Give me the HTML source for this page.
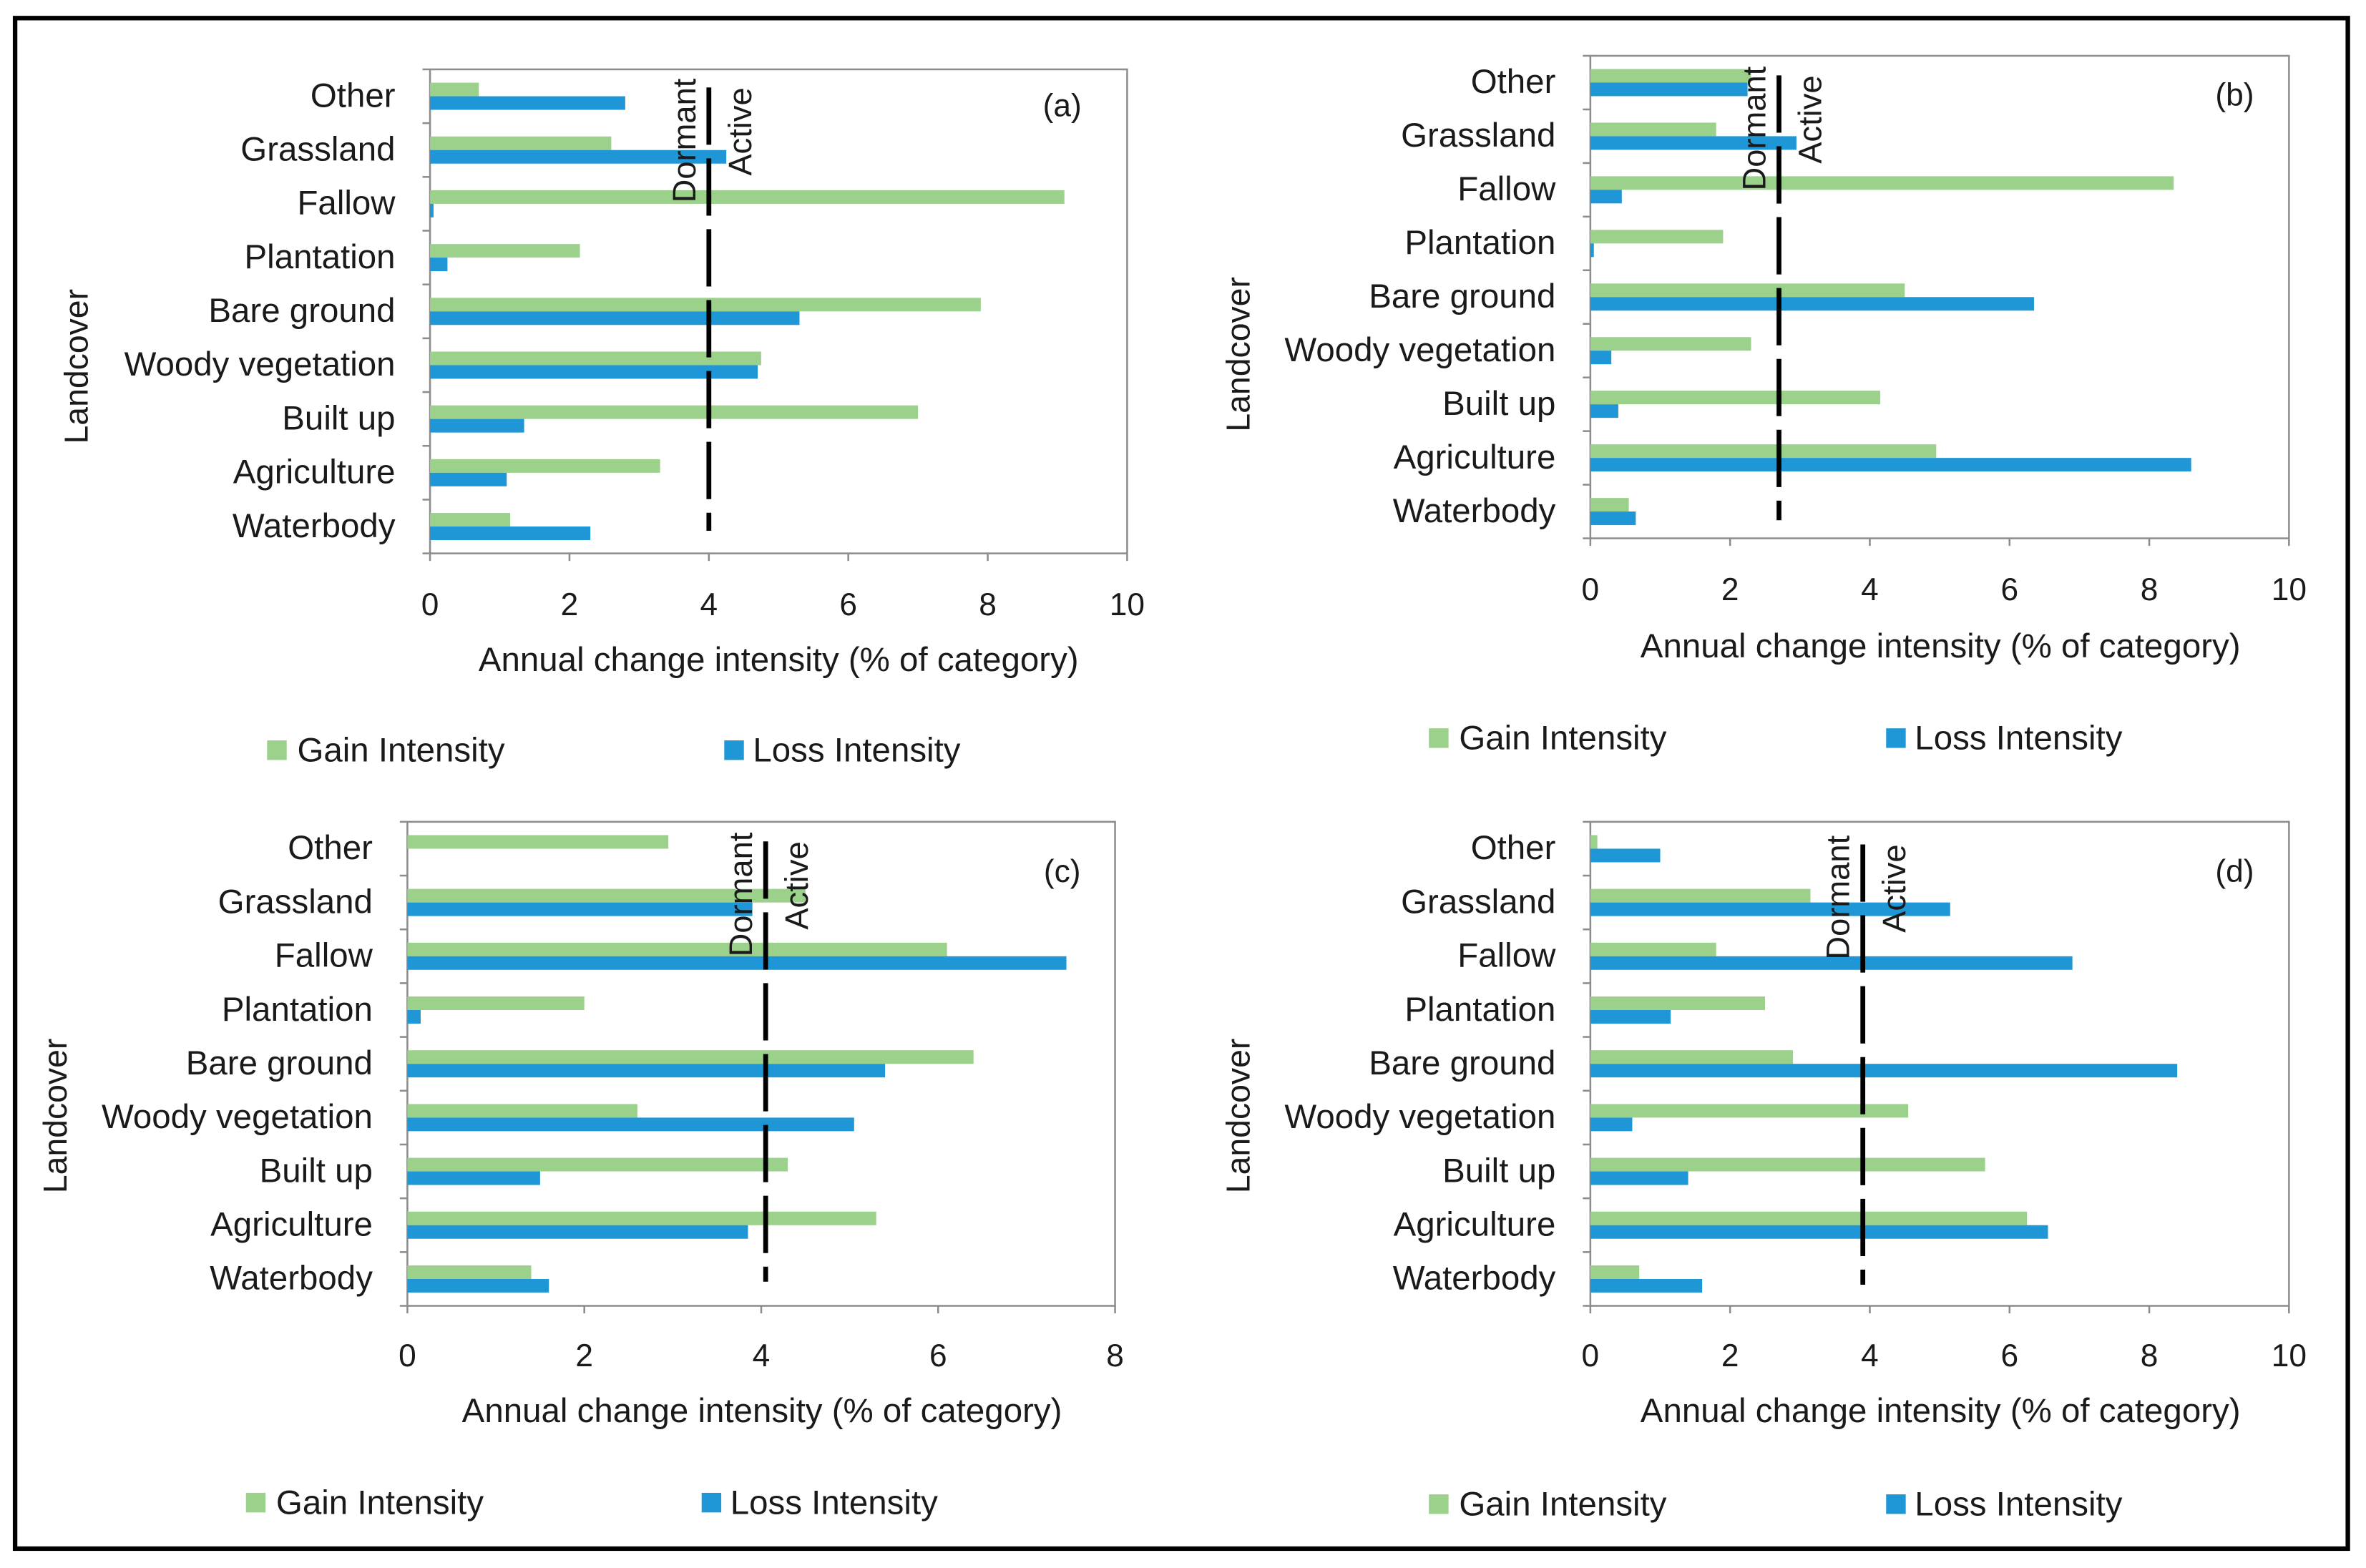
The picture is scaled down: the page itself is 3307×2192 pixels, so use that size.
<!DOCTYPE html>
<html><head><meta charset="utf-8"><style>
html,body{margin:0;padding:0;background:#fff;}
svg{display:block;}
text{font-family:"Liberation Sans",sans-serif;fill:#1a1a1a;}
</style></head><body>
<svg id="fig" width="3307" height="2192" viewBox="0 0 3307 2192" xmlns="http://www.w3.org/2000/svg">
<rect x="0" y="0" width="3307" height="2192" fill="#fff"/>
<g id="root" transform="scale(2.109,2.108)"></g>
</svg>
<script>
const categories = ["Other","Grassland","Fallow","Plantation","Bare ground","Woody vegetation","Built up","Agriculture","Waterbody"];
const gainA = [0.7,2.6,9.1,2.15,7.9,4.75,7.0,3.3,1.15];
const lossA = [2.8,4.25,0.05,0.25,5.3,4.7,1.35,1.1,2.3];
const gainB = [2.3,1.8,8.35,1.9,4.5,2.3,4.15,4.95,0.55];
const lossB = [2.25,2.95,0.45,0.05,6.35,0.3,0.4,8.6,0.65];
const gainC = [2.95,4.5,6.1,2.0,6.4,2.6,4.3,5.3,1.4];
const lossC = [0,3.9,7.45,0.15,5.4,5.05,1.5,3.85,1.6];
const gainD = [0.1,3.15,1.8,2.5,2.9,4.55,5.65,6.25,0.7];
const lossD = [1.0,5.15,6.9,1.15,8.4,0.6,1.4,6.55,1.6];
const ticksA = [0,2,4,6,8,10];
const ticksC = [0,2,4,6,8];
const thresholds = [4.0,2.7,4.05,3.9];

const NS="http://www.w3.org/2000/svg";
const root=document.getElementById('root');
function mk(tag,attrs,parent){const e=document.createElementNS(NS,tag);for(const k in attrs)e.setAttribute(k,attrs[k]);(parent||root).appendChild(e);return e;}

const frame=mk('rect',{x:10,y:12,width:1546,height:1015,fill:'none',stroke:'#000','stroke-width':3});



const panels=[
 {id:'a',gain:gainA,loss:lossA,ticks:ticksA,max:10,x0:285,x1:747,top:46,bot:367,thr:thresholds[0],dTop:58,dBot:352,tickY:400,titleY:437,titleX:516,legY:497,gSq:177,bSq:480,lcX:50,lcY:243,labX:704,labY:70},
 {id:'b',gain:gainB,loss:lossB,ticks:ticksA,max:10,x0:1054,x1:1517,top:37,bot:357,thr:thresholds[1],dTop:50,dBot:345,tickY:390,titleY:428,titleX:1286,legY:489,gSq:947,bSq:1250,lcX:820,lcY:235,labX:1481,labY:63},
 {id:'c',gain:gainC,loss:lossC,ticks:ticksC,max:8,x0:270,x1:739,top:545,bot:866,thr:thresholds[2],dTop:558,dBot:850,tickY:898,titleY:935,titleX:505,legY:996,gSq:163,bSq:465,lcX:36,lcY:740,labX:704,labY:578},
 {id:'d',gain:gainD,loss:lossD,ticks:ticksA,max:10,x0:1054,x1:1517,top:545,bot:866,thr:thresholds[3],dTop:560,dBot:852,tickY:898,titleY:935,titleX:1286,legY:997,gSq:947,bSq:1250,lcX:820,lcY:740,labX:1481,labY:578}
];

panels.forEach(p=>{
  const g=mk('g',{});
  
  
  const xs=v=>p.x0+(p.x1-p.x0)*v/p.max;
  const n=categories.length, bh=(p.bot-p.top)/n;
  const pf=mk('rect',{x:p.x0,y:p.top,width:p.x1-p.x0,height:p.bot-p.top,fill:'none',stroke:'#8c8c8c','stroke-width':1.2},g);
  
  
  for(let i=0;i<=n;i++){const y=p.top+i*bh;mk('line',{x1:p.x0-5,x2:p.x0,y1:y,y2:y,stroke:'#8c8c8c','stroke-width':1.2},g);}
  p.ticks.forEach(t=>{
    const x=xs(t);
    mk('line',{x1:x,x2:x,y1:p.bot,y2:p.bot+5,stroke:'#8c8c8c','stroke-width':1.2},g);
    const tl=mk('text',{x:x,y:p.tickY+8,'font-size':21,'text-anchor':'middle'},g);
    tl.textContent=t;
    
    
  });
  categories.forEach((c,i)=>{
    const cy=p.top+(i+0.5)*bh;
    const lb=mk('text',{x:p.x0-23,y:cy+7,'font-size':22.5,'text-anchor':'end'},g);
    lb.textContent=c;
    
    
    const gb=mk('rect',{x:p.x0,y:cy-9,width:Math.max(0,xs(p.gain[i])-p.x0),height:9,fill:'#9bd18b'},g);
    
    
    const lbar=mk('rect',{x:p.x0,y:cy,width:Math.max(0,xs(p.loss[i])-p.x0),height:9,fill:'#1f97d6'},g);
    
    
  });
  const tx=xs(p.thr);
  const dl=mk('line',{x1:tx,x2:tx,y1:p.dTop,y2:p.dBot,stroke:'#000','stroke-width':3.2,'stroke-dasharray':'38 9'},g);
  
  
  const dm=mk('text',{x:0,y:0,'font-size':21.5,'text-anchor':'end',transform:`translate(${tx-9},${p.dTop-6}) rotate(-90)`},g);
  dm.textContent='Dormant';
  
  
  const ac=mk('text',{x:0,y:0,'font-size':21.5,'text-anchor':'end',transform:`translate(${tx+28},${p.dTop}) rotate(-90)`},g);
  ac.textContent='Active';
  
  
  const pl=mk('text',{x:p.labX,y:p.labY+7,'font-size':21,'text-anchor':'middle'},g);
  pl.textContent='('+p.id+')';
  
  
  const xt=mk('text',{x:p.titleX,y:p.titleY+8,'font-size':22.5,'text-anchor':'middle'},g);
  xt.textContent='Annual change intensity (% of category)';
  
  
  const yt=mk('text',{x:0,y:0,'font-size':22,'text-anchor':'middle',transform:`translate(${p.lcX+8},${p.lcY}) rotate(-90)`},g);
  yt.textContent='Landcover';
  
  
  const gs=mk('rect',{x:p.gSq,y:p.legY-6,width:13,height:13,fill:'#9bd18b'},g);
  
  
  const gt=mk('text',{x:p.gSq+20,y:p.legY+8,'font-size':22.5},g);
  gt.textContent='Gain Intensity';
  
  
  const bs=mk('rect',{x:p.bSq,y:p.legY-6,width:13,height:13,fill:'#1f97d6'},g);
  
  
  const bt=mk('text',{x:p.bSq+19,y:p.legY+8,'font-size':22.5},g);
  bt.textContent='Loss Intensity';
  
  
});
</script>
</body></html>
